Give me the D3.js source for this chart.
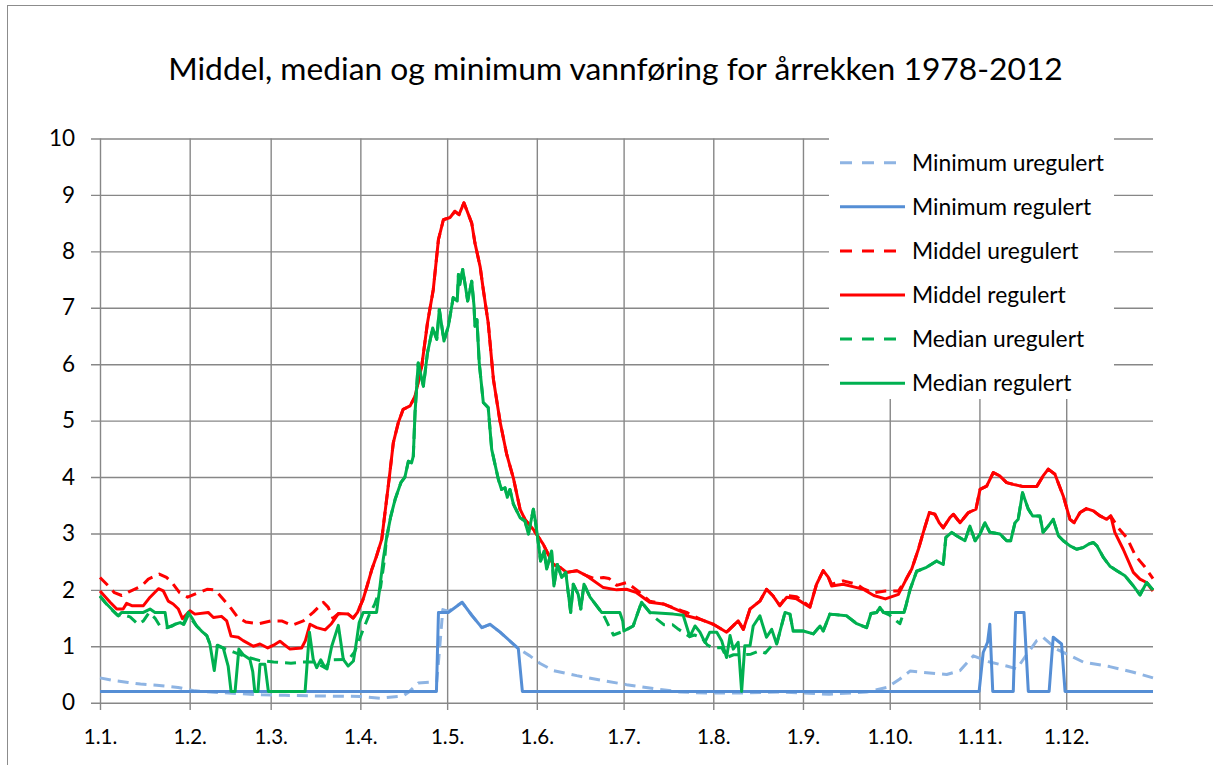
<!DOCTYPE html>
<html>
<head>
<meta charset="utf-8">
<script src="https://cdn.jsdelivr.net/npm/d3@7"></script>
<style>
  body { margin: 0; background: #fff; }
  text { font-family: Lato, "Open Sans", sans-serif; fill: #000; }
</style>
</head>
<body>
<svg id="chart" width="1213" height="765"></svg>
<script>
// day of year (0 = 1.1.) and flow
var monthStarts = [0, 31, 59, 90, 120, 151, 181, 212, 243, 273, 304, 334];
var monthLabels = ["1.1.", "1.2.", "1.3.", "1.4.", "1.5.", "1.6.", "1.7.", "1.8.", "1.9.", "1.10.", "1.11.", "1.12."];
var yTicks = [0, 1, 2, 3, 4, 5, 6, 7, 8, 9, 10];

var seriesNames = ["Minimum uregulert", "Minimum regulert", "Middel uregulert", "Middel regulert", "Median uregulert", "Median regulert"];

var minUregulert = [[0,0.44],[5,0.39],[9.7,0.36],[14,0.33],[19.6,0.31],[27,0.27],[32.8,0.21],[44.4,0.17],[55.9,0.14],[64,0.13],[75,0.12],[90,0.11],[96.8,0.08],[104.8,0.12],[107,0.2],[110,0.35],[116.4,0.37],[117.3,0.9],[118.5,1.65],[120.4,1.62],[125.2,1.78],[128.5,1.55],[132,1.33],[134.8,1.39],[138.3,1.25],[144.6,0.96],[148.6,0.83],[152,0.7],[156.7,0.57],[164.8,0.48],[174,0.39],[182,0.32],[191.3,0.25],[200.5,0.19],[209.7,0.17],[220,0.17],[235,0.19],[252,0.15],[265,0.19],[272,0.27],[276.5,0.42],[280,0.56],[292.7,0.5],[297.3,0.57],[301.9,0.83],[307.6,0.72],[313.4,0.65],[316.9,0.6],[319.2,0.77],[323.8,1.1],[326,1.16],[330.7,0.95],[339.9,0.72],[349,0.64],[357.2,0.54],[364,0.44]];

var minRegulert = [[0,0.2],[116.3,0.2],[117,1.6],[120.4,1.6],[125.2,1.78],[128.5,1.55],[132,1.33],[134.8,1.39],[138.3,1.25],[144.6,0.96],[146,0.2],[303.9,0.2],[305.3,0.89],[306.8,1.07],[307.6,1.39],[308.6,0.2],[315.7,0.2],[316.5,1.6],[319.4,1.6],[320.9,0.2],[328.1,0.2],[329.5,1.16],[332.4,1.04],[333.6,0.2],[364,0.2]];

var middelUregulert = [[0,2.22],[2.9,2.07],[5,1.95],[7.5,1.9],[9.8,1.96],[14.4,2.07],[16.7,2.19],[20.5,2.28],[23,2.22],[25,2.12],[27.5,1.95],[30.3,1.87],[34,1.95],[37,2.01],[39.8,2.0],[42,1.87],[45.5,1.66],[47.5,1.52],[50.4,1.43],[55,1.4],[59,1.45],[62.8,1.45],[66.3,1.37],[70.3,1.45],[73.7,1.6],[77.2,1.78],[78.9,1.69],[80.5,1.5],[82.4,1.58],[85.8,1.57],[87.5,1.5],[89,1.6],[91,1.84],[92.5,2.1],[93.9,2.35],[95.6,2.6],[97.4,2.9],[100,3.99],[101.4,4.61],[103.1,4.96],[104.8,5.2],[107.2,5.26],[108.9,5.43],[111.2,5.96],[113.2,6.73],[115.2,7.32],[117,8.21],[118.7,8.56],[121,8.6],[122.7,8.71],[124.1,8.65],[125.8,8.86],[128.5,8.5],[129.6,8.15],[131.4,7.73],[132.5,7.32],[134.2,6.73],[136,5.73],[138.3,4.98],[140.6,4.4],[142.9,3.98],[145.2,3.43],[146.9,3.25],[149.8,3.07],[153.2,2.81],[156.7,2.45],[159,2.4],[161.3,2.31],[164.8,2.34],[168.2,2.25],[171,2.2],[174,2.22],[176,2.2],[178.6,2.08],[182,2.13],[185.5,2.0],[190,1.8],[194.7,1.75],[201.6,1.62],[202.8,1.6],[207.4,1.48],[212,1.39],[216.6,1.25],[220.6,1.45],[222.4,1.3],[224.7,1.66],[228.1,1.8],[230.4,2.01],[232.7,1.89],[235,1.72],[237.4,1.9],[240.8,1.88],[245.4,1.7],[247.7,2.1],[250,2.34],[251.8,2.22],[252.9,2.1],[256.9,2.16],[261.6,2.1],[263.8,2.02],[267.5,1.95],[271.5,1.98],[276,1.98],[278.8,2.2],[280.6,2.37],[282.9,2.72],[284.6,3.02],[286.7,3.37],[288.6,3.34],[290.1,3.19],[291.5,3.1],[293.8,3.28],[295,3.34],[297.3,3.19],[300.2,3.37],[302.8,3.43],[304.2,3.78],[306.5,3.84],[308.8,4.08],[311,4.02],[313.4,3.9],[315.7,3.87],[319.2,3.83],[323.8,3.83],[326,4.02],[327.8,4.14],[330.1,4.05],[333,3.66],[335.3,3.25],[336.7,3.19],[338.8,3.37],[341,3.44],[343.4,3.4],[345.7,3.31],[348,3.25],[349.4,3.31],[352,3.1],[355,2.92],[358,2.6],[361,2.42],[364,2.2]];

var middelRegulert = [[0,1.98],[3.5,1.78],[5.8,1.66],[8,1.66],[9.2,1.76],[11,1.72],[15,1.72],[17.3,1.87],[20.2,2.02],[21.9,1.98],[23.6,1.8],[25.3,1.75],[27.1,1.66],[28.5,1.49],[31.1,1.63],[32.8,1.57],[37.4,1.6],[39.2,1.51],[42,1.53],[43.8,1.45],[45.3,1.18],[47.8,1.16],[49.5,1.1],[53,1.0],[55.3,1.04],[58,0.97],[60,1.02],[62.2,1.09],[63.4,1.04],[65.7,0.95],[69.7,0.97],[71,1.1],[72.6,1.39],[74.9,1.33],[77.8,1.29],[80,1.4],[82.4,1.58],[85.8,1.57],[87.5,1.5],[89,1.6],[91,1.84],[92.5,2.1],[93.9,2.35],[95.6,2.6],[97.4,2.9],[100,3.99],[101.4,4.61],[103.1,4.96],[104.8,5.2],[107.2,5.26],[108.9,5.43],[111.2,5.96],[113.2,6.73],[115.2,7.32],[117,8.21],[118.7,8.56],[121,8.6],[122.7,8.71],[124.1,8.65],[125.8,8.86],[128.5,8.5],[129.6,8.15],[131.4,7.73],[132.5,7.32],[134.2,6.73],[136,5.73],[138.3,4.98],[140.6,4.4],[142.9,3.98],[145.2,3.43],[146.9,3.25],[149.8,3.07],[153.2,2.81],[156.7,2.45],[159,2.4],[161.3,2.31],[164.8,2.34],[168.2,2.25],[174,2.04],[178.6,2.0],[182,2.01],[185.5,1.95],[190,1.78],[194.7,1.75],[201.6,1.6],[202.8,1.54],[207.4,1.48],[212,1.39],[216.6,1.25],[220.6,1.45],[222.4,1.3],[224.7,1.66],[228.1,1.8],[230.4,2.01],[232.7,1.89],[235,1.72],[237.4,1.87],[240.8,1.84],[245.4,1.69],[247.7,2.1],[250,2.34],[251.8,2.22],[252.9,2.07],[256.9,2.1],[261.6,2.04],[263.8,2.01],[267.5,1.9],[271.5,1.84],[276,1.92],[278.8,2.2],[280.6,2.37],[282.9,2.72],[284.6,3.02],[286.7,3.37],[288.6,3.34],[290.1,3.19],[291.5,3.1],[293.8,3.28],[295,3.34],[297.3,3.19],[300.2,3.37],[302.8,3.43],[304.2,3.78],[306.5,3.84],[308.8,4.08],[311,4.02],[313.4,3.9],[315.7,3.87],[319.2,3.83],[323.8,3.83],[326,4.02],[327.8,4.14],[330.1,4.05],[333,3.66],[335.3,3.25],[336.7,3.19],[338.8,3.37],[341,3.44],[343.4,3.4],[345.7,3.31],[348,3.25],[349.4,3.31],[350.8,3.02],[353.7,2.72],[357.2,2.31],[359.5,2.19],[361.8,2.13],[364,1.98]];

var medianUregulert = [[0,1.89],[3,1.7],[6,1.55],[8,1.56],[10.4,1.52],[13.2,1.39],[15,1.45],[17,1.6],[19,1.5],[20.7,1.36],[23,1.33],[25,1.36],[27,1.42],[29,1.39],[30.5,1.55],[33.4,1.36],[35.1,1.27],[36.9,1.19],[38,1.04],[42,0.98],[46,0.9],[50,0.82],[55,0.75],[60,0.72],[66,0.7],[70,0.72],[74,0.72],[77.8,0.62],[80,0.76],[86,0.77],[88,0.9],[91,1.3],[93,1.55],[95,1.75],[97,2.05],[98.5,2.6],[99,2.9],[100.5,3.3],[102,3.6],[104,3.9],[105.4,4.0],[106.6,4.28],[107.7,4.25],[108.3,4.37],[108.9,5.14],[110,6.02],[111.8,5.61],[113.2,6.2],[115,6.64],[116.4,6.44],[117.3,6.97],[118.9,6.41],[120.4,6.67],[121.6,7.03],[122.1,7.18],[123.5,7.12],[123.9,7.59],[124.4,7.41],[125.4,7.68],[127.1,7.12],[128.5,7.47],[129.3,7.03],[129.6,6.67],[130.3,6.79],[131.1,6.02],[132.5,5.32],[134.2,5.23],[135.4,4.49],[137.7,3.96],[138.8,3.78],[140,3.81],[140.8,3.64],[141.7,3.78],[142.9,3.52],[145.2,3.28],[146.9,3.22],[148.1,2.99],[149.8,3.43],[150.4,3.25],[151.2,2.96],[152.3,2.51],[153.5,2.69],[154.4,2.37],[156.1,2.69],[156.9,2.07],[158.1,2.45],[159.6,2.22],[161,2.31],[162.7,1.6],[163.6,2.1],[165.3,1.92],[166.2,1.66],[167.3,2.1],[169.4,1.87],[173.4,1.6],[174.6,1.5],[176,1.35],[177.5,1.2],[181.1,1.27],[184.3,1.36],[187.2,1.78],[190.1,1.6],[192,1.5],[195,1.38],[198,1.38],[200,1.3],[203.9,1.17],[205.5,1.2],[208,1.15],[210,1.02],[212,0.97],[214.9,0.98],[216.6,0.8],[219,0.85],[222,0.85],[225,0.86],[228,0.92],[230,0.88],[232,1.0],[233.9,1.04],[235,1.25],[236.8,1.6],[238.5,1.57],[239.6,1.27],[243.1,1.27],[246.6,1.22],[248.9,1.36],[250,1.27],[252.3,1.57],[258.1,1.54],[261.6,1.4],[265,1.33],[266.5,1.58],[268.5,1.6],[269.6,1.69],[270.8,1.6],[273,1.55],[276.5,1.4],[278.5,1.7],[280,2.0],[282.3,2.33],[285.7,2.4],[289.2,2.51],[291.5,2.45],[292.4,2.93],[294.4,3.02],[296.1,2.96],[299,2.87],[300.7,3.13],[302.5,2.87],[304.2,2.99],[305.9,3.19],[307.6,3.02],[311.1,2.99],[313.4,2.87],[314.8,2.87],[316.3,3.19],[317.4,3.25],[318.9,3.72],[320.9,3.43],[322.4,3.31],[324.9,3.31],[326,3.02],[327.8,3.13],[329.5,3.25],[331.3,2.96],[333,2.87],[335.3,2.78],[337.6,2.72],[339.9,2.75],[341.7,2.81],[343.4,2.84],[344.6,2.78],[346.9,2.57],[349.1,2.42],[351.5,2.34],[354.3,2.25],[357.2,2.07],[359.5,1.91],[361.8,2.13],[364,2.0]];

var medianRegulert = [[0,1.89],[1.7,1.78],[4,1.66],[6.3,1.54],[7.5,1.6],[8.6,1.6],[15,1.6],[17.3,1.66],[19,1.6],[22.5,1.6],[23.3,1.33],[25.9,1.39],[27.7,1.42],[28.8,1.39],[30.5,1.6],[31.7,1.51],[33.4,1.36],[35.1,1.27],[36.9,1.19],[38,1.04],[39.5,0.57],[40.6,1.02],[42.6,0.97],[44.3,0.65],[45.3,0.2],[46.7,0.2],[48,0.95],[49.5,0.85],[51.8,0.77],[52.8,0.55],[53.5,0.2],[54.6,0.2],[55.3,0.68],[57,0.68],[58.2,0.2],[70.9,0.2],[72.4,1.25],[73.7,0.77],[74.9,0.62],[76.3,0.76],[77.8,0.62],[78.5,0.6],[80.1,1.0],[82.4,1.37],[84.1,0.77],[85.8,0.65],[87.6,0.74],[88.7,1.1],[89.6,1.42],[91,1.6],[95.6,1.6],[96.8,2.07],[97.9,2.54],[99,2.9],[100.5,3.3],[102,3.6],[104,3.9],[105.4,4.0],[106.6,4.28],[107.7,4.25],[108.3,4.37],[108.9,5.14],[110,6.02],[111.8,5.61],[113.2,6.2],[115,6.64],[116.4,6.44],[117.3,6.97],[118.9,6.41],[120.4,6.67],[121.6,7.03],[122.1,7.18],[123.5,7.12],[123.9,7.59],[124.4,7.41],[125.4,7.68],[127.1,7.12],[128.5,7.47],[129.3,7.03],[129.6,6.67],[130.3,6.79],[131.1,6.02],[132.5,5.32],[134.2,5.23],[135.4,4.49],[137.7,3.96],[138.8,3.78],[140,3.81],[140.8,3.64],[141.7,3.78],[142.9,3.52],[145.2,3.28],[146.9,3.22],[148.1,2.99],[149.8,3.43],[150.4,3.25],[151.2,2.96],[152.3,2.51],[153.5,2.69],[154.4,2.37],[156.1,2.69],[156.9,2.07],[158.1,2.45],[159.6,2.22],[161,2.31],[162.7,1.6],[163.6,2.1],[165.3,1.92],[166.2,1.66],[167.3,2.1],[169.4,1.87],[173.4,1.6],[179.7,1.6],[180.7,1.45],[181.1,1.27],[184.3,1.36],[187.2,1.78],[190.1,1.6],[198.2,1.57],[201.6,1.55],[203.9,1.17],[205.7,1.36],[207.4,1.25],[209.1,1.07],[210.8,1.25],[213.2,1.25],[214.9,1.1],[216.6,0.8],[217.8,1.19],[218.9,0.95],[220.6,1.07],[221.8,0.2],[222.9,1.01],[224.7,1.01],[225.8,1.36],[228.1,1.54],[230.4,1.16],[232.2,1.3],[233.9,1.04],[235,1.25],[236.8,1.6],[238.5,1.57],[239.6,1.27],[243.1,1.27],[246.6,1.22],[248.9,1.36],[250,1.27],[252.3,1.57],[258.1,1.54],[261.6,1.4],[265,1.33],[266.5,1.58],[268.5,1.6],[269.6,1.69],[270.8,1.6],[278,1.6],[280,2.0],[282.3,2.33],[285.7,2.4],[289.2,2.51],[291.5,2.45],[292.4,2.93],[294.4,3.02],[296.1,2.96],[299,2.87],[300.7,3.13],[302.5,2.87],[304.2,2.99],[305.9,3.19],[307.6,3.02],[311.1,2.99],[313.4,2.87],[314.8,2.87],[316.3,3.19],[317.4,3.25],[318.9,3.72],[320.9,3.43],[322.4,3.31],[324.9,3.31],[326,3.02],[327.8,3.13],[329.5,3.25],[331.3,2.96],[333,2.87],[335.3,2.78],[337.6,2.72],[339.9,2.75],[341.7,2.81],[343.4,2.84],[344.6,2.78],[346.9,2.57],[349.1,2.42],[351.5,2.34],[354.3,2.25],[357.2,2.07],[359.5,1.91],[361.8,2.13],[364,2.0]];

var seriesData = [minUregulert, minRegulert, middelUregulert, middelRegulert, medianUregulert, medianRegulert];
var seriesColors = ["#8eb4e3", "#558ed5", "#ff0000", "#ff0000", "#00b050", "#00b050"];
var seriesDashed = [true, false, true, false, true, false];

var svg = d3.select("#chart");

// chart frame
svg.append("rect").attr("x", 7.5).attr("y", 5.5).attr("width", 1230).attr("height", 800)
    .attr("fill", "#fff").attr("stroke", "#8c8c8c").attr("stroke-width", 1);

var x = d3.scaleLinear().domain([0, 364]).range([100, 1153]);
var y = d3.scaleLinear().domain([0, 10]).range([702.7, 138.5]);

// horizontal grid + y ticks
var yAxis = svg.append("g")
    .attr("transform", "translate(91,0)")
    .call(d3.axisLeft(y).tickValues(yTicks).tickFormat(d3.format("d"))
        .tickSize(-(1153 - 91)).tickPadding(16));
yAxis.select(".domain").remove();
yAxis.selectAll("line").attr("stroke", "#878787").attr("stroke-width", 1.4);
yAxis.selectAll("text").attr("font-size", 22.5).attr("fill", "#000");

// vertical grid + x ticks
var xAxis = svg.append("g")
    .attr("transform", "translate(0,710)")
    .call(d3.axisBottom(x).tickValues(monthStarts)
        .tickFormat(function (d, i) { return monthLabels[i]; })
        .tickSize(-(710 - 138.5)).tickPadding(19));
xAxis.select(".domain").remove();
xAxis.selectAll("line").attr("stroke", "#878787").attr("stroke-width", 1.4);
xAxis.selectAll("text").attr("font-size", 20.5).attr("fill", "#000");

var line = d3.line()
    .x(function (d) { return x(d[0]); })
    .y(function (d) { return y(d[1]); });

svg.append("g").selectAll("path")
    .data(seriesData)
    .enter()
    .append("path")
    .attr("d", line)
    .attr("fill", "none")
    .attr("stroke", function (d, i) { return seriesColors[i]; })
    .attr("stroke-width", 3)
    .attr("stroke-linejoin", "round")
    .attr("stroke-dasharray", function (d, i) { return seriesDashed[i] ? "11,7" : null; });

// legend
var legend = svg.append("g");
legend.append("rect").attr("x", 829).attr("y", 137).attr("width", 285).attr("height", 262).attr("fill", "#fff");

var rows = legend.selectAll("g.row")
    .data(seriesNames)
    .enter()
    .append("g")
    .attr("class", "row")
    .attr("transform", function (d, i) { return "translate(0," + (162.7 + i * 44.1) + ")"; });

rows.append("line")
    .attr("x1", 840).attr("x2", 905).attr("y1", 0).attr("y2", 0)
    .attr("stroke", function (d, i) { return seriesColors[i]; })
    .attr("stroke-width", 3)
    .attr("stroke-dasharray", function (d, i) { return seriesDashed[i] ? "12,10" : null; });

var legendText = rows.append("text")
    .attr("x", 912).attr("y", 0).attr("dy", "0.35em")
    .attr("font-size", 18)
    .text(function (d) { return d; });

// fit legend font to the original width of "Minimum uregulert"
var w0 = legendText.nodes()[0].getComputedTextLength();
legendText.attr("font-size", 18 * 192 / w0);

// title
var title = svg.append("text")
    .attr("x", 615.5).attr("y", 80)
    .attr("text-anchor", "middle")
    .attr("font-size", 30)
    .text("Middel, median og minimum vannføring for årrekken 1978-2012");
var tw = title.node().getComputedTextLength();
title.attr("font-size", 30 * 895 / tw);
</script>
</body>
</html>
